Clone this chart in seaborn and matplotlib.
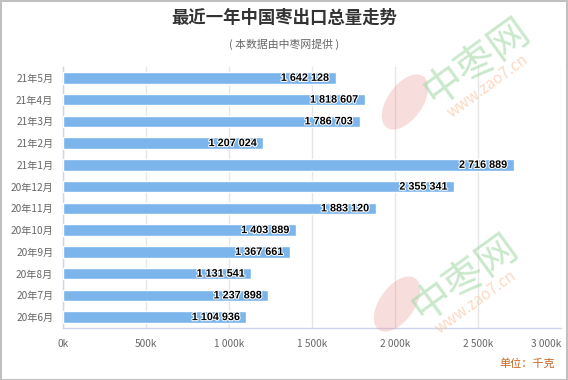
import pandas as pd
import matplotlib
matplotlib.use("Agg")
import matplotlib.pyplot as plt
import matplotlib.patheffects as pe
from matplotlib.patches import Ellipse, Rectangle
from matplotlib.ticker import FuncFormatter, FixedLocator
import seaborn as sns

months = ["21年5月", "21年4月", "21年3月", "21年2月", "21年1月", "20年12月",
          "20年11月", "20年10月", "20年9月", "20年8月", "20年7月", "20年6月"]
export_kg = [1642128, 1818607, 1786703, 1207024, 2716889, 2355341,
             1883120, 1403889, 1367661, 1131541, 1237898, 1104936]
x_ticks = [0, 500000, 1000000, 1500000, 2000000, 2500000, 3000000]

df = pd.DataFrame({"month": months, "kg": export_kg})

sns.set_theme(style="white")
plt.rcParams["font.family"] = ["Noto Sans CJK SC", "DejaVu Sans"]

fig = plt.figure(figsize=(5.68, 3.80), dpi=100)
ax = fig.add_axes([63 / 568, 1 - 328 / 380, (561 - 63) / 568, (328 - 67) / 380])

sns.barplot(data=df, y="month", x="kg", orient="h", color="#7cb5ec",
            saturation=1, width=0.54, edgecolor="white", linewidth=1, ax=ax, zorder=3)

# 数据标签
for i, v in enumerate(export_kg):
    s = f"{v:,}".replace(",", " ")
    ax.text(v - 40000, i, s, ha="right", va="center", fontsize=7.8, fontweight="bold",
            family="Liberation Sans", color="black", zorder=5,
            path_effects=[pe.withStroke(linewidth=1.5, foreground="white")])

ax.set_xlim(0, 3000000)
ax.set_ylim(len(months) - 0.5, -0.5)
ax.xaxis.set_major_locator(FixedLocator(x_ticks))
ax.xaxis.set_major_formatter(FuncFormatter(lambda v, p: f"{int(v / 1000):,}k".replace(",", " ")))
ax.grid(axis="x", color="#e6e6e6", linewidth=1, zorder=0)
ax.set_xlabel("")
ax.set_ylabel("")

for sp in ["top", "right"]:
    ax.spines[sp].set_visible(False)
for sp in ["left", "bottom"]:
    ax.spines[sp].set_color("#ccd6eb")
    ax.spines[sp].set_linewidth(1)

ax.tick_params(axis="x", length=0, labelsize=7.3, labelcolor="#666666", pad=8)
ax.tick_params(axis="y", which="major", length=0, labelsize=7.3, labelcolor="#666666", pad=7)
ax.set_yticks([i - 0.5 for i in range(len(months) + 1)], minor=True)
ax.tick_params(axis="y", which="minor", length=9, color="#ccd6eb", width=1)
ax.get_xticklabels()[-1].set_ha("right")

# 标题
fig.text(0.5, 1 - 18 / 380, "最近一年中国枣出口总量走势", ha="center", va="center",
         fontsize=12.5, fontweight="bold", color="#333333")
fig.text(0.5, 1 - 44 / 380, "( 本数据由中枣网提供 )", ha="center", va="center",
         fontsize=7.8, color="#666666")
fig.text(555 / 568, 1 - 364 / 380, "单位：千克", ha="right", va="center",
         fontsize=8, color="#c8641e")

# 水印
for (cx, cy, lx, ly) in [(476, 62, 405, 102), (464, 278, 397, 304)]:
    fig.text(cx / 568, 1 - cy / 380, "中枣网", ha="center", va="center", fontsize=29,
             rotation=36, color="#a6d9a9", alpha=0.6, zorder=10)
    fig.text((cx + 12) / 568, 1 - (cy + 24) / 380, "www.zao7.cn", ha="center", va="center",
             fontsize=11, style="italic", rotation=36, color="#f9c09a", alpha=0.6, zorder=10)
    fig.patches.append(Ellipse((lx / 568, 1 - ly / 380), 38 / 568, 58 / 380,
                               angle=-20, transform=fig.transFigure, facecolor="#eb8f8f",
                               alpha=0.3, edgecolor="none", zorder=10))

fig.patches.append(Rectangle((0.001, 0.001), 0.997, 0.997, transform=fig.transFigure,
                             fill=False, edgecolor="#c0c0c0", linewidth=1.5))

fig.savefig("out.png", dpi=100, facecolor="white")
